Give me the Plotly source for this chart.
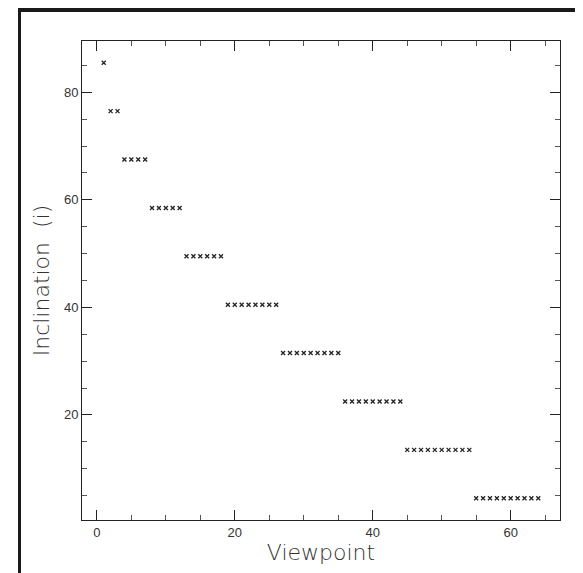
import plotly.graph_objects as go

# Data: viewpoint index and inclination (degrees)
viewpoint = list(range(1, 65))
group_sizes = [1, 2, 4, 5, 6, 8, 9, 9, 10, 10]
group_incl = [85.5, 76.5, 67.5, 58.5, 49.5, 40.5, 31.5, 22.5, 13.5, 4.5]
inclination = []
for n, v in zip(group_sizes, group_incl):
    inclination += [v] * n

W, H = 583, 573
L, R, T, B = 74, 31, 33, 61
pw, ph = W - L - R, H - T - B

def px(x):
    return (x - L) / pw

def py(y):
    return (H - B - y) / ph

fig = go.Figure()
fig.add_trace(go.Scatter(
    x=viewpoint, y=inclination, mode="markers",
    marker=dict(symbol="x-thin-open", size=4, color="#222222",
                line=dict(width=1.3, color="#222222")),
    showlegend=False, hoverinfo="x+y",
))

axis_common = dict(
    showgrid=False, zeroline=False, showline=True, linecolor="#222222", linewidth=1,
    mirror="allticks", ticks="inside", ticklen=10, tickwidth=1, tickcolor="#222222",
    tickfont=dict(family="Liberation Sans, Arial, sans-serif", size=13, color="#333333"),
)

title_font = dict(family="DejaVu Sans, Lato, sans-serif", size=22, color="#333333", weight=200)

fig.update_xaxes(
    range=[-2.15, 67.15], tick0=0, dtick=20,
    minor=dict(ticks="inside", ticklen=5, dtick=5, tick0=0, tickcolor="#555555", showgrid=False),
    title=dict(text="Viewpoint", standoff=5, font=title_font),
    **axis_common,
)
fig.update_yaxes(
    range=[0.45, 89.55], tick0=0, dtick=20,
    minor=dict(ticks="inside", ticklen=5, dtick=5, tick0=0, tickcolor="#555555", showgrid=False),
    title=dict(text="Inclination  (i)", standoff=8, font=title_font),
    **axis_common,
)

# black frame bands (top and left)
fig.add_shape(type="rect", xref="paper", yref="paper",
              x0=px(10), x1=px(W + 5), y0=py(4), y1=py(-5),
              fillcolor="#1a1a1a", line=dict(width=0), layer="above")
fig.add_shape(type="rect", xref="paper", yref="paper",
              x0=px(10), x1=px(13), y0=py(H + 5), y1=py(-5),
              fillcolor="#1a1a1a", line=dict(width=0), layer="above")

fig.update_layout(
    width=W, height=H,
    margin=dict(l=L, r=R, t=T, b=B),
    paper_bgcolor="white", plot_bgcolor="white",
)

fig.write_html("out.html")
